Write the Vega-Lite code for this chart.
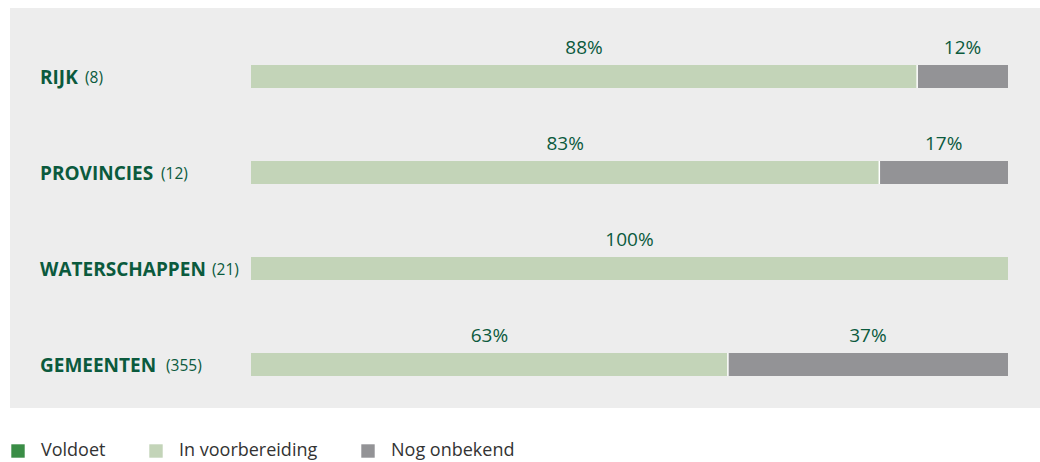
{
  "$schema": "https://vega.github.io/schema/vega-lite/v6.json",
  "width": 1030,
  "height": 400,
  "autosize": "none",
  "padding": {"left": 10, "top": 8, "right": 0, "bottom": 54},
  "background": "#ffffff",
  "config": {"view": {"fill": "#ededed", "stroke": null}},
  "data": {"values": [
    {"cat": "RIJK", "count": "(8)", "status": "In voorbereiding", "value": 88},
    {"cat": "RIJK", "count": "(8)", "status": "Nog onbekend", "value": 12},
    {"cat": "PROVINCIES", "count": "(12)", "status": "In voorbereiding", "value": 83},
    {"cat": "PROVINCIES", "count": "(12)", "status": "Nog onbekend", "value": 17},
    {"cat": "WATERSCHAPPEN", "count": "(21)", "status": "In voorbereiding", "value": 100},
    {"cat": "GEMEENTEN", "count": "(355)", "status": "In voorbereiding", "value": 63},
    {"cat": "GEMEENTEN", "count": "(355)", "status": "Nog onbekend", "value": 37}
  ]},
  "transform": [
    {"stack": "value", "groupby": ["cat"], "sort": [{"field": "status", "order": "ascending"}], "as": ["x0", "x1"]},
    {"calculate": "(datum.x0 + datum.x1) / 2", "as": "mid"},
    {"calculate": "datum.value + '%'", "as": "lbl"}
  ],
  "encoding": {
    "y": {"field": "cat", "type": "nominal", "axis": null,
      "scale": {"domain": ["RIJK", "PROVINCIES", "WATERSCHAPPEN", "GEMEENTEN"], "range": [20.5, 404.5], "paddingInner": 0.76, "paddingOuter": 0.38}}
  },
  "layer": [
    {
      "mark": {"type": "bar"},
      "encoding": {
        "x": {"field": "x0", "type": "quantitative", "axis": null, "scale": {"domain": [0, 100], "range": [241, 998], "nice": false, "zero": false}},
        "x2": {"field": "x1"},
        "color": {"field": "status", "type": "nominal",
          "scale": {"domain": ["Voldoet", "In voorbereiding", "Nog onbekend"], "range": ["#3a8d46", "#c3d4b8", "#939396"]},
          "legend": {"orient": "none", "legendX": -1, "legendY": 434, "direction": "horizontal", "title": null,
            "symbolType": "square", "symbolSize": 180, "symbolStrokeWidth": 0, "symbolOpacity": 1,
            "labelFont": "Open Sans", "labelFontSize": 18, "labelColor": "#333333", "labelOffset": 14,
            "columnPadding": 41, "labelLimit": 300}}
      }
    },
    {
      "transform": [{"filter": "datum.status === 'Nog onbekend'"}],
      "mark": {"type": "tick", "orient": "vertical", "color": "#ffffff", "size": 23, "thickness": 1.5, "opacity": 1},
      "encoding": {"x": {"field": "x0", "type": "quantitative"}}
    },
    {
      "mark": {"type": "text", "font": "Open Sans", "fontSize": 19, "color": "#0b5a3d", "dy": -23, "baseline": "alphabetic", "align": "center"},
      "encoding": {
        "x": {"field": "mid", "type": "quantitative"},
        "text": {"field": "lbl"}
      }
    },
    {
      "transform": [{"filter": "datum.status === 'In voorbereiding'"}],
      "mark": {"type": "text", "font": "Open Sans", "fontWeight": "bold", "fontSize": 19, "color": "#0b5a3d", "dy": 7, "baseline": "alphabetic", "align": "left"},
      "encoding": {"x": {"datum": -27.87}, "text": {"field": "cat"}}
    },
    {
      "transform": [{"filter": "datum.status === 'In voorbereiding' && datum.cat === 'RIJK'"}],
      "mark": {"type": "text", "font": "Open Sans", "fontSize": 15.5, "color": "#0b5a3d", "dy": 6.5, "baseline": "alphabetic", "align": "left"},
      "encoding": {"x": {"datum": -21.93}, "text": {"field": "count"}}
    },
    {
      "transform": [{"filter": "datum.status === 'In voorbereiding' && datum.cat === 'PROVINCIES'"}],
      "mark": {"type": "text", "font": "Open Sans", "fontSize": 15.5, "color": "#0b5a3d", "dy": 6.5, "baseline": "alphabetic", "align": "left"},
      "encoding": {"x": {"datum": -11.89}, "text": {"field": "count"}}
    },
    {
      "transform": [{"filter": "datum.status === 'In voorbereiding' && datum.cat === 'WATERSCHAPPEN'"}],
      "mark": {"type": "text", "font": "Open Sans", "fontSize": 15.5, "color": "#0b5a3d", "dy": 6.5, "baseline": "alphabetic", "align": "left"},
      "encoding": {"x": {"datum": -5.15}, "text": {"field": "count"}}
    },
    {
      "transform": [{"filter": "datum.status === 'In voorbereiding' && datum.cat === 'GEMEENTEN'"}],
      "mark": {"type": "text", "font": "Open Sans", "fontSize": 15.5, "color": "#0b5a3d", "dy": 6.5, "baseline": "alphabetic", "align": "left"},
      "encoding": {"x": {"datum": -11.23}, "text": {"field": "count"}}
    }
  ]
}
